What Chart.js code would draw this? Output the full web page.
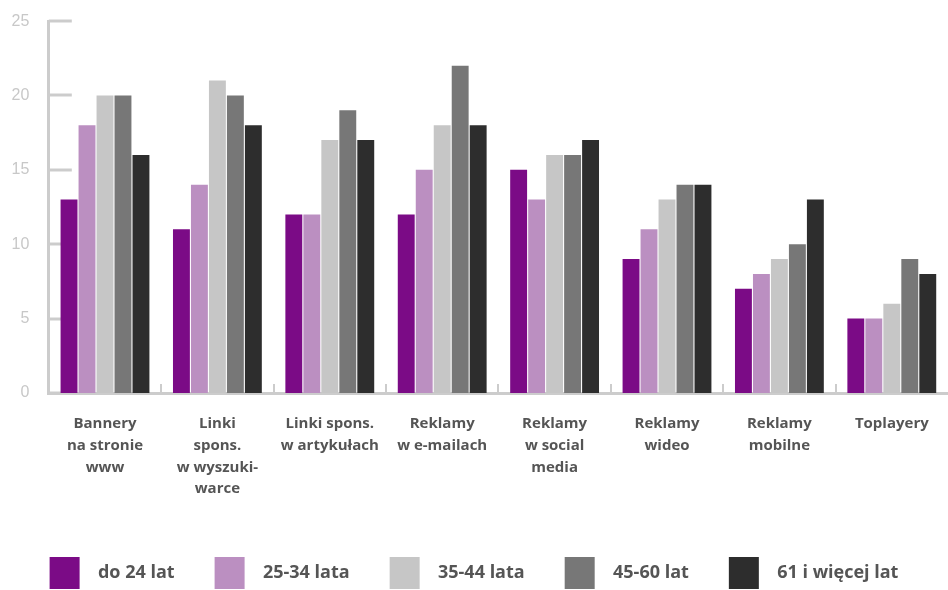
<!DOCTYPE html>
<html><head><meta charset="utf-8">
<script src="https://cdn.jsdelivr.net/npm/chart.js@4/dist/chart.umd.min.js"></script>
<style>html,body{margin:0;padding:0;background:#fff}#w{width:948px;height:590px}</style>
</head><body><div id="w"><canvas id="c"></canvas></div>
<script>
const categories = [
  ["Bannery","na stronie","www"],
  ["Linki","spons.","w wyszuki-","warce"],
  ["Linki spons.","w artykułach"],
  ["Reklamy","w e-mailach"],
  ["Reklamy","w social","media"],
  ["Reklamy","wideo"],
  ["Reklamy","mobilne"],
  ["Toplayery"]
];
const seriesNames = ["do 24 lat","25-34 lata","35-44 lata","45-60 lat","61 i więcej lat"];
const do24   = [13,11,12,12,15,9,7,5];
const w25_34 = [18,14,12,15,13,11,8,5];
const w35_44 = [20,21,17,18,16,13,9,6];
const w45_60 = [20,20,19,22,16,14,10,9];
const w61    = [16,18,17,18,17,14,13,8];
const yTicks = [0,5,10,15,20,25];
const colors = ["#7b0b86","#bb8fc1","#c6c6c6","#777777","#2d2d2d"];

const axisMarks = {
  id:'axisMarks',
  beforeDatasetsDraw(chart){
    const {ctx, chartArea:a, scales:{x,y}} = chart;
    ctx.save();
    ctx.strokeStyle = '#cccccc';
    ctx.lineWidth = 3;
    yTicks.forEach(v=>{
      const py = Math.round(y.getPixelForValue(v));
      ctx.beginPath(); ctx.moveTo(a.left, py); ctx.lineTo(a.left+23, py); ctx.stroke();
    });
    ctx.lineWidth = 2;
    const n = categories.length, w = (a.right - a.left)/n;
    for(let i=1;i<n;i++){
      const px = Math.round(a.left + i*w);
      ctx.beginPath(); ctx.moveTo(px, a.bottom); ctx.lineTo(px, a.bottom-9); ctx.stroke();
    }
    ctx.restore();
  }
};

const data = {
  labels: categories,
  datasets: [do24,w25_34,w35_44,w45_60,w61].map((d,i)=>({
    label: seriesNames[i], data: d, backgroundColor: colors[i],
    categoryPercentage: 0.8, barPercentage: 0.94
  }))
};
new Chart(document.getElementById('c'), {
  type:'bar', data,
  plugins:[axisMarks],
  options:{
    responsive:true, maintainAspectRatio:false, animation:false,
    layout:{padding:{left:0,right:0,top:9,bottom:-9}},
    plugins:{
      tooltip:{enabled:false},
      legend:{
        position:'bottom',
        labels:{
          boxWidth:30, boxHeight:32, padding:40, color:'#555',
          font:{family:'"Liberation Sans Narrow","Open Sans",sans-serif', size:18, weight:'bold'},
          generateLabels(chart){
            return chart.data.datasets.map((ds,i)=>({
              text:'  '+ds.label, fillStyle:ds.backgroundColor, strokeStyle:ds.backgroundColor,
              lineWidth:0, datasetIndex:i, fontColor:'#555'
            }));
          }
        }
      }
    },
    scales:{
      x:{
        grid:{display:false},
        border:{color:'#cccccc', width:3},
        ticks:{color:'#555', padding:12, maxRotation:0, autoSkip:false,
          font:{family:'"Open Sans",sans-serif', size:15, weight:'bold', lineHeight:1.45}},
        afterFit(s){ s.height = 124; }
      },
      y:{
        min:0, max:25,
        afterBuildTicks(s){ s.ticks = yTicks.map(v=>({value:v})); },
        grid:{display:false},
        border:{color:'#cccccc', width:3},
        ticks:{color:'#c8c8c8', padding:11.5,
          font:{family:'"Liberation Sans",Arial,sans-serif', size:16}}
      }
    }
  }
});
</script>
</body></html>
